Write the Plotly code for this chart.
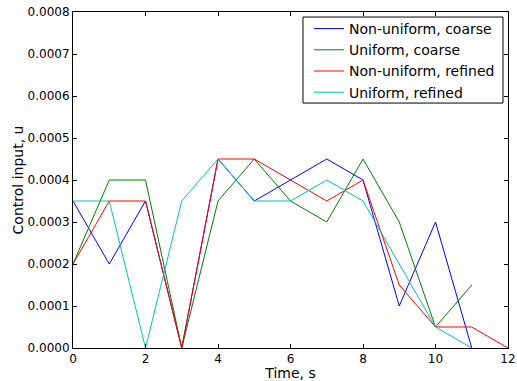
import plotly.graph_objects as go

time_coarse = list(range(12))
time_refined = list(range(13))

nonuniform_coarse = [0.00035, 0.0002, 0.00035, 0.0, 0.00045, 0.00035, 0.0004, 0.00045, 0.0004, 0.0001, 0.0003, 0.0]
uniform_coarse = [0.0002, 0.0004, 0.0004, 0.0, 0.00035, 0.00045, 0.00035, 0.0003, 0.00045, 0.0003, 0.00005, 0.00015]
nonuniform_refined = [0.0002, 0.00035, 0.00035, 0.0, 0.00045, 0.00045, 0.0004, 0.00035, 0.0004, 0.00015, 0.00005, 0.00005, 0.0]
uniform_refined = [0.00035, 0.00035, 0.0, 0.00035, 0.00045, 0.00035, 0.00035, 0.0004, 0.00035, 0.0002, 0.00005, 0.0]

series = [
    ("Non-uniform, coarse", time_coarse, nonuniform_coarse, "#0000ff"),
    ("Uniform, coarse", time_coarse, uniform_coarse, "#008000"),
    ("Non-uniform, refined", time_refined, nonuniform_refined, "#ff0000"),
    ("Uniform, refined", time_coarse, uniform_refined, "#00bfbf"),
]

fig = go.Figure()
for name, x, y, c in series:
    fig.add_trace(go.Scatter(x=x, y=y, mode="lines", name=name,
                             line=dict(color=c, width=1)))

axis_common = dict(showgrid=False, zeroline=False, showline=True, linecolor="black",
                   linewidth=1, mirror="ticks", ticks="inside", ticklen=4,
                   tickcolor="black", tickfont=dict(size=12, color="black"),
                   automargin=False, ticklabeloverflow="allow")

# legend frame (matplotlib-style box)
fig.add_shape(type="rect", xref="paper", yref="paper",
              x0=0.5287, x1=0.9885, y0=0.729, y1=0.985,
              line=dict(color="black", width=1), fillcolor="white", layer="above")

fig.update_layout(
    width=517, height=381,
    margin=dict(l=73, r=9, t=12, b=33),
    paper_bgcolor="white", plot_bgcolor="white",
    font=dict(family="DejaVu Sans", size=12, color="black"),
    xaxis=dict(range=[0, 12], tickvals=[0, 2, 4, 6, 8, 10, 12],
               title=dict(text="Time, s", standoff=7), **axis_common),
    yaxis=dict(range=[0, 0.0008], tickvals=[i * 0.0001 for i in range(9)],
               tickformat=".4f",
               title=dict(text="Control input, u", standoff=0), **axis_common),
    legend=dict(x=0.5425, y=0.997, xanchor="left", yanchor="top",
                borderwidth=0, bgcolor="rgba(0,0,0,0)",
                font=dict(size=14), tracegroupgap=0, itemwidth=30),
    showlegend=True,
)

fig.write_html("out.html",
               config={"displayModeBar": False},
               post_script="document.body.style.margin='0';document.body.style.overflow='hidden';")
